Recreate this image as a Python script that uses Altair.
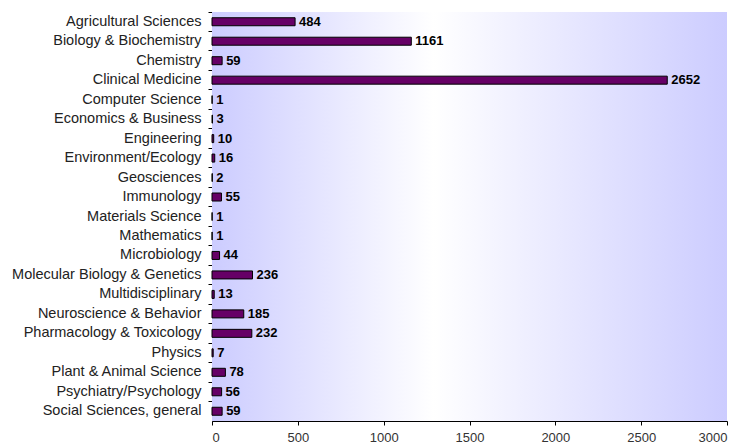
import altair as alt
import pandas as pd

categories = [
    "Agricultural Sciences", "Biology & Biochemistry", "Chemistry", "Clinical Medicine",
    "Computer Science", "Economics & Business", "Engineering", "Environment/Ecology",
    "Geosciences", "Immunology", "Materials Science", "Mathematics", "Microbiology",
    "Molecular Biology & Genetics", "Multidisciplinary", "Neuroscience & Behavior",
    "Pharmacology & Toxicology", "Physics", "Plant & Animal Science",
    "Psychiatry/Psychology", "Social Sciences, general",
]
values = [484, 1161, 59, 2652, 1, 3, 10, 16, 2, 55, 1, 1, 44, 236, 13, 185, 232, 7, 78, 56, 59]
x_ticks = [0, 500, 1000, 1500, 2000, 2500, 3000]

df = pd.DataFrame({"field": categories, "count": values})

FONT = "Liberation Sans"

xscale = alt.Scale(domain=[0, 3000], nice=False)
yscale = alt.Scale(domain=categories, paddingInner=0, paddingOuter=0)

bg = alt.Chart(pd.DataFrame({"a": [0]})).mark_rect(
    color=alt.LinearGradient(
        gradient="linear", x1=0, x2=1, y1=0, y2=0,
        stops=[
            alt.GradientStop(color="#ccccff", offset=0),
            alt.GradientStop(color="#ffffff", offset=0.43),
            alt.GradientStop(color="#ccccff", offset=1),
        ],
    )
).encode(
    x=alt.datum(0, scale=xscale),
    x2=alt.datum(3000),
)

bars = alt.Chart(df).mark_bar(
    color="#660066", stroke="#000000", strokeWidth=1, size=8
).encode(
    x=alt.X("count:Q", scale=xscale,
            axis=alt.Axis(values=x_ticks, title=None, grid=False, domainColor="#000000",
                          tickColor="#000000", tickSize=4, labelFont=FONT, labelFontSize=13,
                          labelColor="#333333", labelPadding=6, format="d")),
    y=alt.Y("field:N", sort=categories, scale=yscale,
            axis=alt.Axis(title=None, grid=False, domainColor="#000000", tickColor="#000000",
                          tickSize=4, bandPosition=0, labelFont=FONT, labelFontSize=14.5,
                          labelColor="#222222", labelPadding=7, labelLimit=400)),
)

labels = alt.Chart(df).mark_text(
    align="left", baseline="middle", dx=4, font=FONT, fontSize=13, fontWeight="bold", color="#000000"
).encode(
    x=alt.X("count:Q", scale=xscale),
    y=alt.Y("field:N", sort=categories, scale=yscale),
    text=alt.Text("count:Q"),
)

chart = alt.layer(bg, bars, labels).properties(
    width=515, height=409,
    padding={"left": 212, "top": 12, "right": 22, "bottom": 27},
    autosize=alt.AutoSizeParams(type="none"),
    background="#ffffff",
).configure_view(stroke=None)

chart.save("out.html", embed_options={"renderer": "svg", "actions": False})
